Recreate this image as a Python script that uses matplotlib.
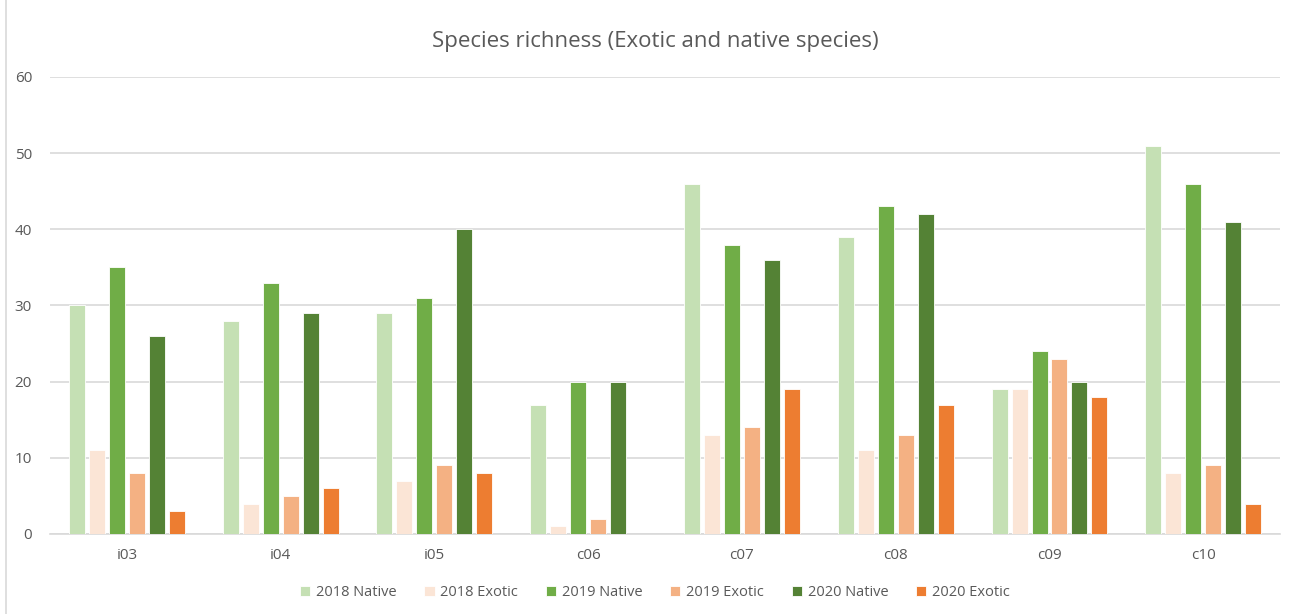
import numpy as np
import matplotlib.pyplot as plt
from matplotlib.patches import Rectangle

plt.rcParams['font.family'] = ['Open Sans', 'DejaVu Sans']

sites = ['i03', 'i04', 'i05', 'c06', 'c07', 'c08', 'c09', 'c10']
native_2018 = [30, 28, 29, 17, 46, 39, 19, 51]
exotic_2018 = [11, 4, 7, 1, 13, 11, 19, 8]
native_2019 = [35, 33, 31, 20, 38, 43, 24, 46]
exotic_2019 = [8, 5, 9, 2, 14, 13, 23, 9]
native_2020 = [26, 29, 40, 20, 36, 42, 20, 41]
exotic_2020 = [3, 6, 8, 0, 19, 17, 18, 4]

series = [
    ('2018 Native', native_2018, '#C5E0B4'),
    ('2018 Exotic', exotic_2018, '#FBE5D6'),
    ('2019 Native', native_2019, '#70AD47'),
    ('2019 Exotic', exotic_2019, '#F4B183'),
    ('2020 Native', native_2020, '#548235'),
    ('2020 Exotic', exotic_2020, '#ED7D31'),
]

fig = plt.figure(figsize=(12.97, 6.14), dpi=100)
ax = fig.add_axes([0.0386, 0.1303, 0.9484, 0.7443])

# outer chart frame
fig.patches.append(Rectangle((0.005, -0.01), 1.01, 1.02, transform=fig.transFigure,
                             fill=False, edgecolor='#D9D9D9', linewidth=1.2))

x = np.arange(len(sites))
step = 0.13
width = 0.104
for i, (name, vals, col) in enumerate(series):
    ax.bar(x + (i - 2.5) * step, vals, width, color=col, label=name,
           edgecolor='white', linewidth=0.6, zorder=3)

ax.set_xlim(-0.5, len(sites) - 0.5)
ax.set_ylim(0, 60)
ax.set_yticks(range(0, 61, 10))
ax.set_xticks(x)
ax.set_xticklabels(sites)
ax.yaxis.grid(True, color='#D9D9D9', linewidth=1.2, zorder=0)
ax.set_axisbelow(True)
for s in ['top', 'right', 'left']:
    ax.spines[s].set_visible(False)
ax.spines['bottom'].set_color('#D9D9D9')
ax.spines['bottom'].set_linewidth(1.2)
ax.tick_params(length=0, labelsize=11, colors='#595959', pad=10)
ax.tick_params(axis='y', pad=13)

fig.text(0.505, 0.932, 'Species richness (Exotic and native species)',
         ha='center', va='center', fontsize=16, color='#595959')

fig.legend(loc='center', bbox_to_anchor=(0.505, 0.035), ncol=6, frameon=False,
           fontsize=10.5, labelcolor='#595959', handlelength=0.7, handleheight=0.7,
           columnspacing=1.9, handletextpad=0.4)

fig.savefig('out.png', dpi=100)
